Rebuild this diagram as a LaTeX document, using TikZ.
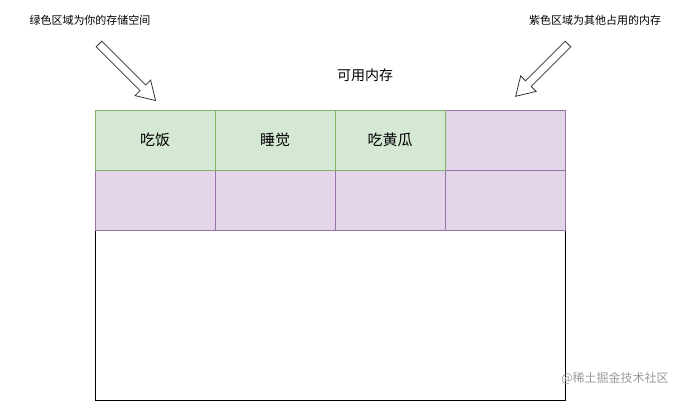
\documentclass[tikz,border=0pt]{standalone}
\usepackage{fontspec}
\setmainfont{Noto Sans CJK SC}
\begin{document}
\begin{tikzpicture}[x=1pt,y=-1pt,
  green/.style={draw={rgb,255:red,130;green,179;blue,102},fill={rgb,255:red,213;green,232;blue,212}},
  purple/.style={draw={rgb,255:red,150;green,115;blue,166},fill={rgb,255:red,225;green,213;blue,231}},
  lbl/.style={font=\fontsize{11}{13}\selectfont},
  cell/.style={font=\fontsize{15}{18}\selectfont},
  blk/.style={draw=black!80,fill=white,line width=0.8pt}]
\useasboundingbox (0,0) rectangle (691,401);
\draw[black] (95,230) rectangle (565,400);
\draw[purple] (95,170) rectangle (215,230);
\draw[purple] (215,170) rectangle (335,230);
\draw[purple] (335,170) rectangle (445,230);
\draw[purple] (445,170) rectangle (565,230);
\draw[purple] (445,110) rectangle (565,170);
\draw[green] (95,110) rectangle (215,170);
\draw[green] (215,110) rectangle (335,170);
\draw[green] (335,110) rectangle (445,170);
\node[cell] (a) at (155,140) {吃饭};
\node[cell] (b) at (275,140) {睡觉};
\node[cell] (c) at (390,140) {吃黄瓜};
\node[font=\fontsize{14}{17}\selectfont] (t) at (365,75) {可用内存};
\node[lbl] (l) at (90,20) {绿色区域为你的存储空间};
\node[lbl] (r) at (595,20) {紫色区域为其他占用的内存};
\node[font=\fontsize{12}{14}\selectfont,text=black!40] (w) at (615,378) {@稀土掘金技术社区};
\begin{scope}[shift={(99,44)},rotate=-45]
\draw[blk] (0,-4) -- (62,-4) -- (62,-11) -- (80,0) -- (62,11) -- (62,4) -- (0,4) -- cycle;
\end{scope}
\begin{scope}[shift={(568,44)},rotate=-135]
\draw[blk] (0,-4) -- (56,-4) -- (56,-11) -- (74,0) -- (56,11) -- (56,4) -- (0,4) -- cycle;
\end{scope}
\end{tikzpicture}
\end{document}
